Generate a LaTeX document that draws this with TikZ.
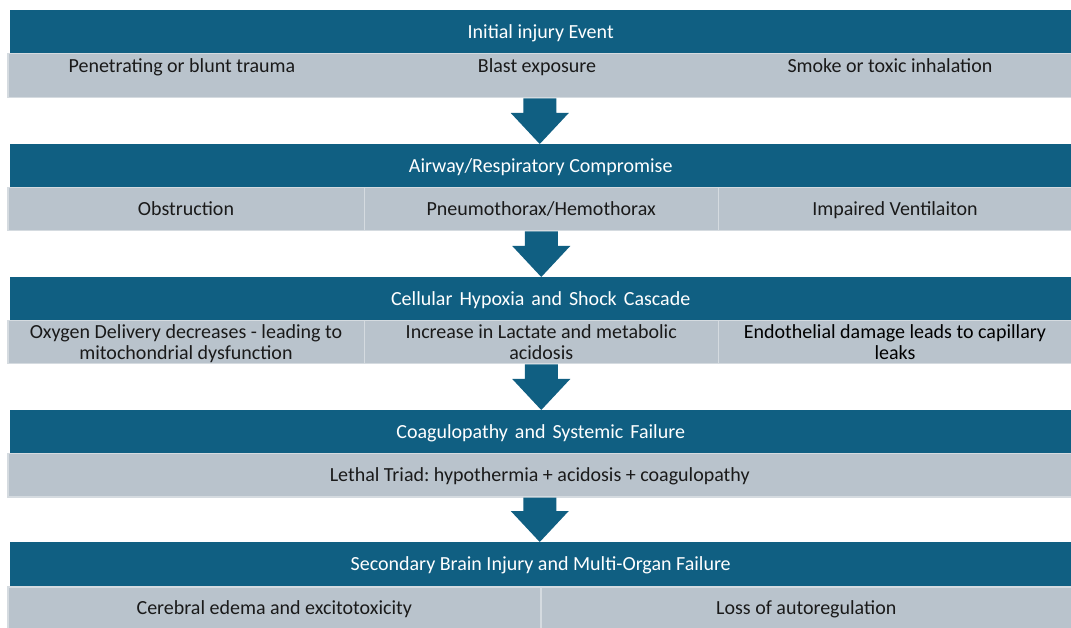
\documentclass[tikz,border=0pt]{standalone}
\usepackage{fontspec}
\setmainfont{Carlito}
\usetikzlibrary{calc}
\frenchspacing

\definecolor{flowblue}{HTML}{105F82}
\definecolor{cellgrey}{HTML}{B9C3CC}
\definecolor{cellline}{HTML}{D5DBE0}
\definecolor{celltext}{HTML}{1A1A1A}

\newcommand{\flowfont}{\fontsize{20}{21}\selectfont}

% block arrow from the middle of one row down to the next header
\newcommand{\flowarrow}[2]{%
	\fill[flowblue] let \p1 = (#1.south), \p2 = (#2.north) in
		(\x1-16.5pt,\y1) -- (\x1+16.5pt,\y1) -- (\x1+16.5pt,\y2+31pt) -- (\x1+29pt,\y2+31pt)
		-- (\x1,\y2) -- (\x1-29pt,\y2+31pt) -- (\x1-16.5pt,\y2+31pt) -- cycle;}

\tikzset{
	header/.style = {fill=flowblue, text=white, anchor=north west, inner sep=0pt,
		minimum width=1061pt, minimum height=#1, text height=13pt, text depth=0pt, font=\flowfont},
	header/.default = 43pt,
	spread/.style = {font={\flowfont\spaceskip=0.35em plus 0.05em}},
	cell/.style = {fill=cellgrey, draw=cellline, line width=1.5pt, anchor=north west,
		inner sep=0pt, minimum height=43pt, text height=13pt, text depth=0pt,
		text=celltext, align=center, font=\flowfont},
	twoline/.style = {text height=34pt},
	plain/.style = {inner sep=0pt, anchor=base, text=celltext, font=\flowfont}
}

\begin{document}
\begin{tikzpicture}[x=1pt, y=1pt]
	\useasboundingbox (0,0) rectangle (1071,627);
	\fill[white] (0,0) rectangle (1071,627);

	% initial event
	\node[header] (h1) at (10,617) {Initial injury Event};
	\node[cell, minimum width=1064pt, minimum height=44pt] (r1) at (7,574) {};
	\node[plain] (r1a) at (182,554.3) {Penetrating or blunt trauma};
	\node[plain] (r1b) at (537,554.3) {Blast exposure};
	\node[plain] (r1c) at (890,554.3) {Smoke or toxic inhalation};

	% airway
	\node[header] (h2) at (10,483) {Airway/Respiratory Compromise};
	\node[cell, minimum width=356.5pt] (r2a) at (7,440) {Obstruction};
	\node[cell, minimum width=354pt] (r2b) at (363.5,440) {Pneumothorax/Hemothorax};
	\node[cell, minimum width=353.5pt] (r2c) at (717.5,440) {Impaired Ventilaiton};

	% hypoxia
	\node[header, spread] (h3) at (10,350) {Cellular Hypoxia and Shock Cascade};
	\node[cell, twoline, minimum width=356.5pt] (r3a) at (7,307) {Oxygen Delivery decreases - leading to\\mitochondrial dysfunction};
	\node[cell, twoline, minimum width=354pt] (r3b) at (363.5,307) {Increase in Lactate and metabolic\\acidosis};
	\node[cell, twoline, minimum width=353.5pt, text=black] (r3c) at (717.5,307) {Endothelial damage leads to capillary\\leaks};

	% coagulopathy
	\node[header, spread] (h4) at (10,217) {Coagulopathy and Systemic Failure};
	\node[cell, minimum width=1064pt] (r4) at (7,174) {Lethal Triad: hypothermia + acidosis + coagulopathy};

	% secondary injury
	\node[header=44pt] (h5) at (10,85) {Secondary Brain Injury and Multi-Organ Failure};
	\node[cell, minimum width=533pt, minimum height=42pt] (r5a) at (7,41) {Cerebral edema and excitotoxicity};
	\node[cell, minimum width=531pt, minimum height=42pt] (r5b) at (540,41) {Loss of autoregulation};

	\flowarrow{r1}{h2}
	\flowarrow{r2b}{h3}
	\flowarrow{r3b}{h4}
	\flowarrow{r4}{h5}
\end{tikzpicture}
\end{document}
